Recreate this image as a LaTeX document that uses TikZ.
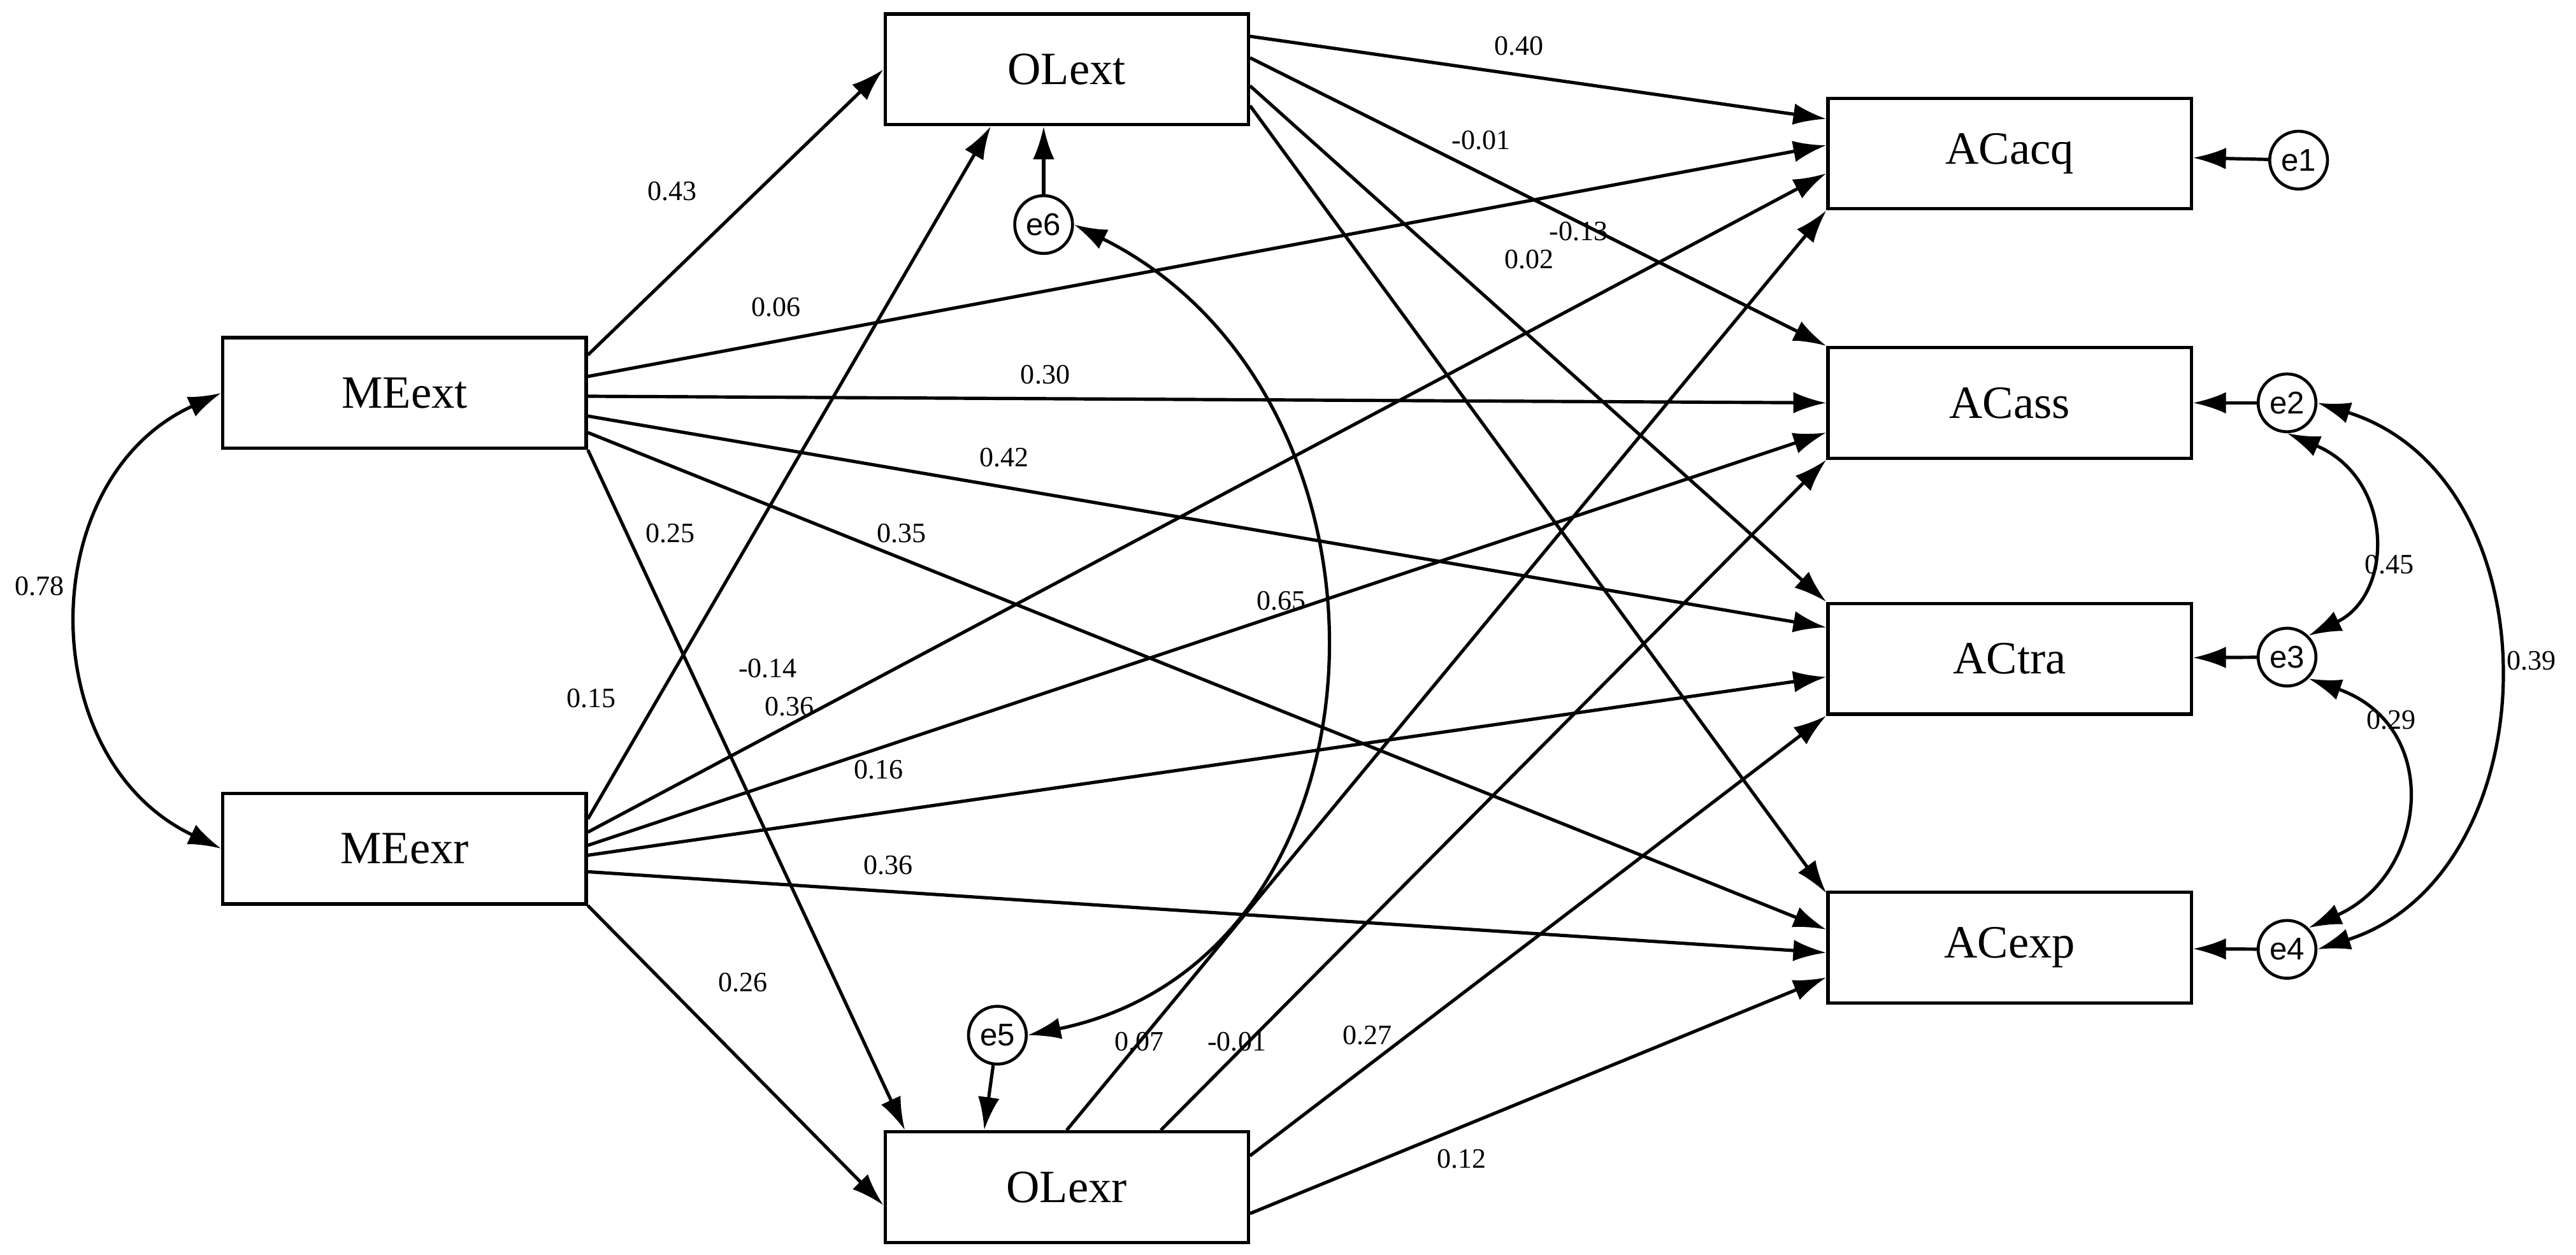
\documentclass[tikz,border=0pt]{standalone}
\usepackage{fontspec}
\setmainfont{Liberation Serif}
\newfontfamily\sansf{Liberation Sans}
\usetikzlibrary{arrows.meta,calc}
\begin{document}
\begin{tikzpicture}[x=1pt,y=-1pt,
 box/.style={draw,line width=2pt,minimum width=220pt,minimum height=67pt,inner sep=0pt,font=\fontsize{28}{32}\selectfont},
 err/.style={draw,circle,line width=1.8pt,minimum size=35pt,inner sep=0pt,font=\sansf\fontsize{19}{22}\selectfont},
 ar/.style={line width=2pt,-{Latex[length=20pt,width=13pt]}},
 dar/.style={line width=2pt,{Latex[length=20pt,width=13pt]}-{Latex[length=20pt,width=13pt]}},
 lb/.style={font=\fontsize{17}{20}\selectfont}]
\useasboundingbox (0,0) rectangle (1560,760);
\node[box] (OLext) at (646,42) {OLext};
\node[box] (MEext) at (245,238) {MEext};
\node[box] (MEexr) at (245,514) {MEexr};
\node[box] (OLexr) at (646,719) {OLexr};
\node[box] (ACacq) at (1217,93) {ACacq};
\node[box] (ACass) at (1217,244) {ACass};
\node[box] (ACtra) at (1217,399) {ACtra};
\node[box] (ACexp) at (1217,574) {ACexp};
\node[err] (e1) at (1392,97) {e1};
\node[err] (e2) at (1385,244) {e2};
\node[err] (e3) at (1385,398) {e3};
\node[err] (e4) at (1385,575) {e4};
\node[err] (e6) at (632,136) {e6};
\node[err] (e5) at (604,627) {e5};
% errors
\draw[ar] (e1) -- (ACacq);
\draw[ar] (e2) -- (ACass);
\draw[ar] (e3) -- (ACtra);
\draw[ar] (e4) -- (ACexp);
\draw[ar] (e6) -- (e6|-OLext.south);
\draw[ar] (e5) -- ([xshift=-50pt]OLexr.north);
% OLext
\draw[ar] ([yshift=20pt]OLext.east) -- ([yshift=21pt]ACacq.west);
\draw[ar] ([yshift=7pt]OLext.east) -- (ACass.north west);
\draw[ar] ([yshift=-10pt]OLext.east) -- (ACtra.north west);
\draw[ar] ([yshift=-22pt]OLext.east) -- ([yshift=33pt]ACexp.west);
% MEext
\draw[ar] ([yshift=23pt]MEext.east) -- (OLext.west);
\draw[ar] ([yshift=10pt]MEext.east) -- ([yshift=5pt]ACacq.west);
\draw[ar] ([yshift=-2pt]MEext.east) -- (ACass.west);
\draw[ar] ([yshift=-14pt]MEext.east) -- ([yshift=19pt]ACtra.west);
\draw[ar] ([yshift=-24pt]MEext.east) -- ([yshift=11pt]ACexp.west);
\draw[ar] (MEext.south east) -- ([xshift=-98pt]OLexr.north);
% MEexr
\draw[ar] ([yshift=18pt]MEexr.east) -- ([xshift=-46pt]OLext.south);
\draw[ar] ([yshift=10pt]MEexr.east) -- ([yshift=-12pt]ACacq.west);
\draw[ar] ([yshift=2pt]MEexr.east) -- ([yshift=-18pt]ACass.west);
\draw[ar] ([yshift=-4pt]MEexr.east) -- ([yshift=-11pt]ACtra.west);
\draw[ar] ([yshift=-14pt]MEexr.east) -- ([yshift=-3pt]ACexp.west);
\draw[ar] (MEexr.south east) -- ([yshift=-11pt]OLexr.west);
% OLexr
\draw[ar] (OLexr.north) -- (ACacq.south west);
\draw[ar] ([xshift=57pt]OLexr.north) -- (ACass.south west);
\draw[ar] ([yshift=19pt]OLexr.east) -- (ACtra.south west);
\draw[ar] ([yshift=-16pt]OLexr.east) -- ([yshift=-18pt]ACexp.west);
% covariances
\draw[dar] (MEext.west) .. controls (20,290) and (20,460) .. (MEexr.west);
\draw[dar] (e6.east) .. controls (860,240) and (850,580) .. (e5.east);
\draw[dar] (e2.south) .. controls (1450,290) and (1450,360) .. (e3.north east);
\draw[dar] (e3.south east) .. controls (1480,440) and (1470,530) .. (e4.north east);
\draw[dar] (e2.east) .. controls (1550,290) and (1545,530) .. (e4.east);
% labels
\node[lb] at (920,28) {0.40};
\node[lb] at (897,85) {-0.01};
\node[lb] at (956,140) {-0.13};
\node[lb] at (926,157) {0.02};
\node[lb] at (407,116) {0.43};
\node[lb] at (470,186) {0.06};
\node[lb] at (633,227) {0.30};
\node[lb] at (608,277) {0.42};
\node[lb] at (546,323) {0.35};
\node[lb] at (406,323) {0.25};
\node[lb] at (24,355) {0.78};
\node[lb] at (358,423) {0.15};
\node[lb] at (465,405) {-0.14};
\node[lb] at (478,428) {0.36};
\node[lb] at (532,466) {0.16};
\node[lb] at (538,524) {0.36};
\node[lb] at (450,595) {0.26};
\node[lb] at (776,364) {0.65};
\node[lb] at (690,631) {0.07};
\node[lb] at (749,631) {-0.01};
\node[lb] at (828,627) {0.27};
\node[lb] at (885,702) {0.12};
\node[lb] at (1447,342) {0.45};
\node[lb] at (1448,436) {0.29};
\node[lb] at (1533,400) {0.39};
\end{tikzpicture}
\end{document}
